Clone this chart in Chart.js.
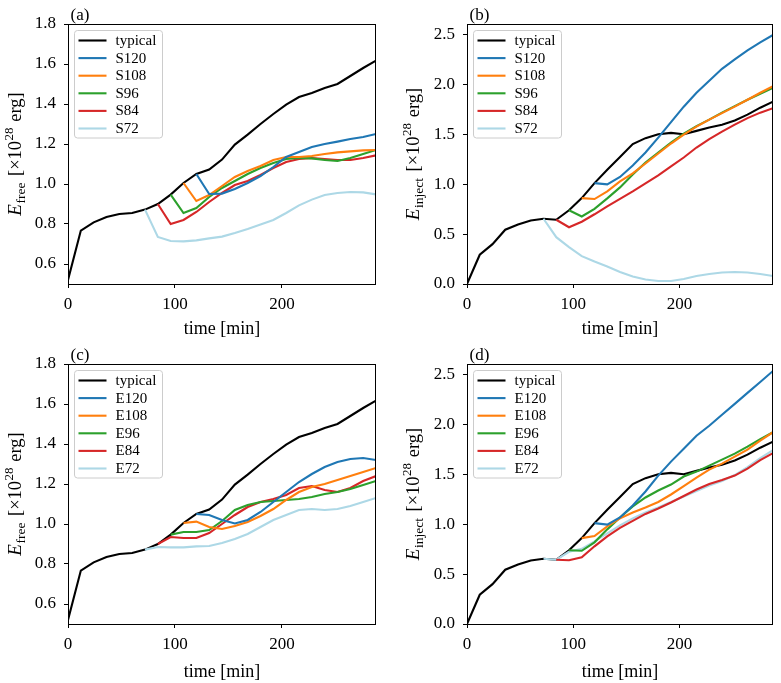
<!DOCTYPE html>
<html><head><meta charset="utf-8">
<script src="https://cdn.jsdelivr.net/npm/chart.js@4.4.1/dist/chart.umd.min.js"></script>
<style>
html,body{margin:0;padding:0;background:#fff;}
#wrap{position:relative;width:781px;height:683px;overflow:hidden;background:#fff;}
canvas{position:absolute;}
</style></head><body>
<div id="wrap">
<canvas id="ca" width="390" height="340" style="left:0;top:0"></canvas>
<canvas id="cb" width="391" height="340" style="left:390px;top:0"></canvas>
<canvas id="cc" width="390" height="343" style="left:0;top:340px"></canvas>
<canvas id="cd" width="391" height="343" style="left:390px;top:340px"></canvas>
</div>
<script>
// ---------- data ----------
const time = [0,12,24,36,48,60,72,84,96,108,120,132,144,156,168,180,192,204,216,228,240,252,264,276,288];
const xTicks = [0,100,200];
const freeTicks = [0.6,0.8,1.0,1.2,1.4,1.6,1.8];
const injectTicks = [0.0,0.5,1.0,1.5,2.0,2.5];
const sLabels = ['typical','S120','S108','S96','S84','S72'];
const eLabels = ['typical','E120','E108','E96','E84','E72'];

const typicalFree = [0.52,0.767,0.808,0.835,0.85,0.855,0.872,0.90,0.947,1.005,1.05,1.072,1.122,1.197,1.247,1.30,1.35,1.397,1.435,1.455,1.48,1.50,1.54,1.58,1.617];
const typicalInject = [0,0.294,0.40,0.545,0.598,0.638,0.655,0.645,0.74,0.862,1.013,1.146,1.275,1.405,1.464,1.504,1.517,1.504,1.537,1.571,1.598,1.641,1.70,1.77,1.83];

const S120Free = [null,null,null,null,null,null,null,null,null,null,1.05,0.95,0.952,0.975,1.005,1.04,1.085,1.135,1.16,1.185,1.20,1.212,1.225,1.235,1.25];
const S108Free = [null,null,null,null,null,null,null,null,null,1.005,0.915,0.945,0.99,1.035,1.065,1.09,1.12,1.135,1.135,1.14,1.15,1.158,1.163,1.168,1.17];
const S96Free  = [null,null,null,null,null,null,null,null,0.947,0.855,0.88,0.935,0.98,1.015,1.05,1.08,1.105,1.125,1.13,1.128,1.12,1.115,1.13,1.15,1.17];
const S84Free  = [null,null,null,null,null,null,null,0.90,0.80,0.82,0.86,0.91,0.955,0.995,1.015,1.045,1.08,1.11,1.125,1.13,1.125,1.12,1.12,1.13,1.143];
const S72Free  = [null,null,null,null,null,null,0.872,0.735,0.715,0.713,0.718,0.728,0.737,0.755,0.775,0.797,0.82,0.855,0.893,0.922,0.945,0.955,0.96,0.958,0.948];

const S120Inject = [null,null,null,null,null,null,null,null,null,null,1.013,1.0,1.075,1.19,1.32,1.47,1.625,1.78,1.92,2.04,2.16,2.255,2.345,2.425,2.50];
const S108Inject = [null,null,null,null,null,null,null,null,null,0.862,0.853,0.93,1.03,1.11,1.21,1.31,1.41,1.50,1.58,1.65,1.715,1.78,1.85,1.92,1.985];
const S96Inject  = [null,null,null,null,null,null,null,null,0.74,0.678,0.755,0.86,0.97,1.10,1.22,1.32,1.42,1.51,1.585,1.65,1.72,1.785,1.85,1.91,1.97];
const S84Inject  = [null,null,null,null,null,null,null,0.645,0.57,0.625,0.70,0.78,0.855,0.93,1.01,1.09,1.18,1.27,1.37,1.455,1.53,1.60,1.665,1.72,1.765];
const S72Inject  = [null,null,null,null,null,null,0.655,0.47,0.37,0.28,0.225,0.175,0.12,0.075,0.045,0.03,0.03,0.05,0.08,0.10,0.115,0.12,0.115,0.10,0.08];

const E120Free = [null,null,null,null,null,null,null,null,null,null,1.05,1.045,1.02,1.003,1.02,1.06,1.11,1.16,1.21,1.25,1.285,1.31,1.325,1.33,1.32];
const E108Free = [null,null,null,null,null,null,null,null,null,1.005,1.012,0.985,0.975,0.99,1.01,1.04,1.075,1.12,1.16,1.185,1.20,1.22,1.24,1.26,1.28];
const E96Free  = [null,null,null,null,null,null,null,null,0.947,0.96,0.96,0.97,1.015,1.07,1.095,1.11,1.115,1.12,1.125,1.135,1.15,1.16,1.175,1.195,1.215];
const E84Free  = [null,null,null,null,null,null,null,0.90,0.935,0.93,0.93,0.955,1.0,1.045,1.085,1.11,1.125,1.145,1.18,1.19,1.17,1.16,1.18,1.215,1.24];
const E72Free  = [null,null,null,null,null,null,0.872,0.885,0.883,0.883,0.888,0.89,0.905,0.925,0.95,0.985,1.02,1.045,1.07,1.075,1.07,1.075,1.09,1.11,1.13];

const E120Inject = [null,null,null,null,null,null,null,null,null,null,1.013,0.998,1.07,1.19,1.33,1.49,1.63,1.76,1.89,1.99,2.10,2.21,2.32,2.43,2.54];
const E108Inject = [null,null,null,null,null,null,null,null,null,0.862,0.883,0.98,1.06,1.12,1.17,1.225,1.30,1.385,1.47,1.55,1.61,1.68,1.75,1.84,1.925];
const E96Inject  = [null,null,null,null,null,null,null,null,0.74,0.735,0.82,0.95,1.07,1.18,1.27,1.34,1.40,1.48,1.53,1.59,1.65,1.71,1.78,1.855,1.925];
const E84Inject  = [null,null,null,null,null,null,null,0.645,0.64,0.67,0.78,0.88,0.965,1.035,1.105,1.16,1.22,1.285,1.35,1.405,1.445,1.49,1.56,1.645,1.715];
const E72Inject  = [null,null,null,null,null,null,0.655,0.645,0.725,0.755,0.83,0.91,0.99,1.06,1.12,1.17,1.225,1.28,1.335,1.39,1.435,1.495,1.575,1.665,1.745];

// ---------- styles ----------
const FONT = '"Liberation Serif", "Times New Roman", serif';
const lineColors = ['#000000','#1f77b4','#ff7f0e','#2ca02c','#d62728','#add8e6'];

function decorPlugin(panel, labels, sub, yLabelX) {
  return {
    id: 'decor',
    afterDraw(chart) {
      const ctx = chart.ctx, ca = chart.chartArea;
      ctx.save();
      // frame
      ctx.strokeStyle = '#000'; ctx.lineWidth = 1;
      const L = Math.round(ca.left) + 0.5, R = Math.round(ca.right) - 0.5;
      const T = Math.round(ca.top) + 0.5, B = Math.round(ca.bottom) + 0.5;
      ctx.strokeRect(L, T, R - L, B - T);
      // panel label
      ctx.fillStyle = '#000';
      ctx.font = '17px ' + FONT;
      ctx.textBaseline = 'alphabetic'; ctx.textAlign = 'left';
      ctx.fillText(panel, ca.left + 2.5, ca.top - 4);
      // y label
      const cy = (ca.top + ca.bottom) / 2;
      ctx.translate(yLabelX, cy);
      ctx.rotate(-Math.PI / 2);
      const pieces = [
        {t: 'E', f: 'italic 19px ' + FONT, dy: 0, gap: 0.5},
        {t: sub, f: '13.5px ' + FONT, dy: 4, gap: 2},
        {t: ' [\u00d710', f: '18.5px ' + FONT, dy: 0, gap: 0.5},
        {t: '28', f: '13px ' + FONT, dy: -8, gap: 1},
        {t: ' erg]', f: '18.5px ' + FONT, dy: 0, gap: 0}
      ];
      let total = 0;
      pieces.forEach(p => { ctx.font = p.f; p.w = ctx.measureText(p.t).width; total += p.w + p.gap; });
      let x = -total / 2;
      pieces.forEach(p => {
        ctx.font = p.f; ctx.fillText(p.t, x, 6 + p.dy); x += p.w + p.gap;
      });
      ctx.restore();
      // legend
      ctx.save();
      const x0 = ca.left + 6.5, y0 = ca.top + 6.5, w = 88, h = 107.5, r = 3;
      ctx.beginPath();
      ctx.moveTo(x0 + r, y0); ctx.lineTo(x0 + w - r, y0); ctx.arcTo(x0 + w, y0, x0 + w, y0 + r, r);
      ctx.lineTo(x0 + w, y0 + h - r); ctx.arcTo(x0 + w, y0 + h, x0 + w - r, y0 + h, r);
      ctx.lineTo(x0 + r, y0 + h); ctx.arcTo(x0, y0 + h, x0, y0 + h - r, r);
      ctx.lineTo(x0, y0 + r); ctx.arcTo(x0, y0, x0 + r, y0, r); ctx.closePath();
      ctx.fillStyle = 'rgba(255,255,255,0.8)'; ctx.fill();
      ctx.strokeStyle = '#cccccc'; ctx.lineWidth = 1; ctx.stroke();
      ctx.font = '15px ' + FONT; ctx.textBaseline = 'middle'; ctx.textAlign = 'left';
      chart.data.datasets.forEach((ds, i) => {
        const yy = y0 + 10 + 17.6 * i;
        ctx.strokeStyle = ds.borderColor; ctx.lineWidth = 2.1;
        ctx.beginPath(); ctx.moveTo(x0 + 4, yy); ctx.lineTo(x0 + 32, yy); ctx.stroke();
        ctx.fillStyle = '#000'; ctx.fillText(ds.label, x0 + 41, yy + 0.5);
      });
      ctx.restore();
    }
  };
}

function makeChart(id, o) {
  const datasets = o.series.map((vals, i) => ({
    label: o.labels[i],
    data: time.map((t, k) => ({x: t, y: vals[k]})).filter(p => p.y !== null),
    borderColor: lineColors[i],
    backgroundColor: lineColors[i],
    borderWidth: 2.1,
    pointRadius: 0,
    tension: 0,
    fill: false,
    order: i === 0 ? 1 : 0
  }));
  const canvas = document.getElementById(id);
  return new Chart(canvas, {
    type: 'line',
    data: {datasets},
    plugins: [decorPlugin(o.panel, o.labels, o.sub, o.yLabelX)],
    options: {
      responsive: false, animation: false,
      layout: {padding: {top: o.top, right: canvas.width - o.right, left: 0, bottom: 0}},
      plugins: {legend: {display: false}, tooltip: {enabled: false}},
      scales: {
        x: {
          type: 'linear', min: 0, max: 288,
          afterBuildTicks: s => { s.ticks = xTicks.map(v => ({value: v})); },
          afterFit: s => { s.height = canvas.height - o.bottom; },
          grid: {display: true, drawOnChartArea: false, drawTicks: true, tickLength: 4, color: '#000', tickColor: '#000', tickWidth: 1},
          border: {display: false},
          ticks: {color: '#000', font: {family: FONT, size: 17}, padding: 6, maxRotation: 0, autoSkip: false, callback: v => String(v)},
          title: {display: true, text: 'time [min]', color: '#000', font: {family: FONT, size: 18}, padding: {top: 0, bottom: 0}}
        },
        y: {
          type: 'linear', min: o.yMin, max: o.yMax,
          afterBuildTicks: s => { s.ticks = o.yTicks.map(v => ({value: v})); },
          afterFit: s => { s.width = o.left; },
          grid: {display: true, drawOnChartArea: false, drawTicks: true, tickLength: 4, color: '#000', tickColor: '#000', tickWidth: 1},
          border: {display: false},
          ticks: {color: '#000', font: {family: FONT, size: 17}, padding: 8, autoSkip: false, callback: v => Number(v).toFixed(1)}
        }
      }
    }
  });
}

makeChart('ca', {panel: '(a)', labels: sLabels, sub: 'free', series: [typicalFree, S120Free, S108Free, S96Free, S84Free, S72Free],
  yMin: 0.5, yMax: 1.8, yTicks: freeTicks, left: 68, right: 376, top: 24, bottom: 284, yLabelX: 15});
makeChart('cb', {panel: '(b)', labels: sLabels, sub: 'inject', series: [typicalInject, S120Inject, S108Inject, S96Inject, S84Inject, S72Inject],
  yMin: 0, yMax: 2.61, yTicks: injectTicks, left: 77, right: 383, top: 24, bottom: 284, yLabelX: 23});
makeChart('cc', {panel: '(c)', labels: eLabels, sub: 'free', series: [typicalFree, E120Free, E108Free, E96Free, E84Free, E72Free],
  yMin: 0.5, yMax: 1.8, yTicks: freeTicks, left: 68, right: 376, top: 24, bottom: 284, yLabelX: 15});
makeChart('cd', {panel: '(d)', labels: eLabels, sub: 'inject', series: [typicalInject, E120Inject, E108Inject, E96Inject, E84Inject, E72Inject],
  yMin: 0, yMax: 2.61, yTicks: injectTicks, left: 77, right: 383, top: 24, bottom: 284, yLabelX: 23});
</script>
</body></html>
